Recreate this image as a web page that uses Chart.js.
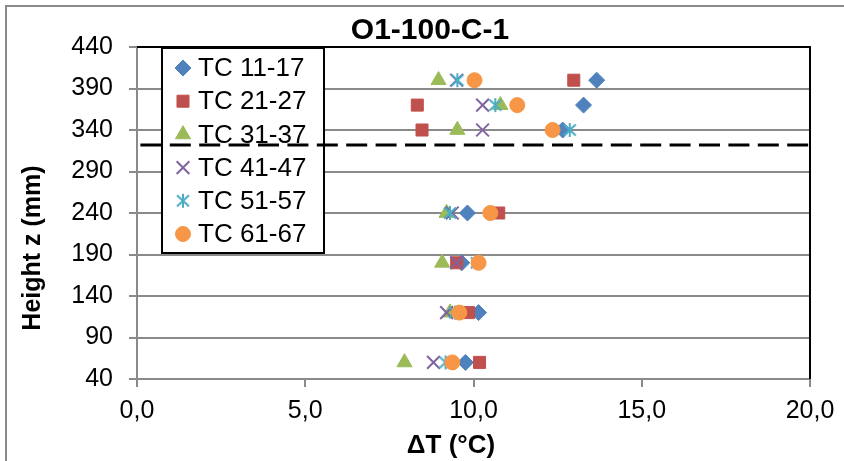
<!DOCTYPE html>
<html>
<head>
<meta charset="utf-8">
<script src="https://cdn.jsdelivr.net/npm/chart.js@4.4.0/dist/chart.umd.min.js"></script>
<style>
  html, body { margin: 0; padding: 0; background: #fff; }
</style>
</head>
<body>
<canvas id="chart" width="844" height="461"></canvas>
<script>
// heights of the thermocouples (mm)
var heights = [60, 120, 180, 240, 340, 370, 400];

var seriesNames = ['TC 11-17', 'TC 21-27', 'TC 31-37', 'TC 41-47', 'TC 51-57', 'TC 61-67'];

// temperature rise per series (°C), bottom to top
var tc11 = [9.76, 10.15, 9.65, 9.82, 12.65, 13.27, 13.66];
var tc21 = [10.18, 9.85, 9.5, 10.75, 8.47, 8.33, 12.98];
var tc31 = [7.95, 9.3, 9.07, 9.2, 9.52, 10.8, 8.96];
var tc41 = [8.81, 9.2, 9.5, 9.37, 10.27, 10.27, 9.5];
var tc51 = [9.17, 9.45, 10.1, 9.3, 12.86, 10.65, 9.52];
var tc61 = [9.37, 9.58, 10.15, 10.5, 12.35, 11.3, 10.03];

var cutHeight = 322;   // dashed line
var xTicks = [0, 5, 10, 15, 20];
var yTicks = [40, 90, 140, 190, 240, 290, 340, 390, 440];

var chartTitle = 'O1-100-C-1';
var xTitle = 'ΔT (°C)';
var yTitle = 'Height z (mm)';

var FONT = '"Liberation Sans", Arial, sans-serif';

// excel style asterisk marker
function asterisk(color) {
  var c = document.createElement('canvas');
  c.width = 16; c.height = 16;
  var g = c.getContext('2d');
  g.strokeStyle = color;
  g.lineWidth = 2;
  g.beginPath();
  g.moveTo(8, 1); g.lineTo(8, 15);
  g.moveTo(2, 2.5); g.lineTo(14, 13.5);
  g.moveTo(14, 2.5); g.lineTo(2, 13.5);
  g.stroke();
  return c;
}

function pts(vals) {
  return vals.map(function(v, i) { return {x: v, y: heights[i]}; });
}

var styles = [
  {data: tc11, color: '#4F81BD', style: 'rectRot', r: 8, bw: 1},
  {data: tc21, color: '#C0504D', style: 'rect', r: 8.5, bw: 1},
  {data: tc31, color: '#9BBB59', style: 'triangle', r: 8.7, bw: 1},
  {data: tc41, color: '#8064A2', style: 'crossRot', r: 9, bw: 2},
  {data: tc51, color: '#4BACC6', style: asterisk('#4BACC6'), r: 8, bw: 2},
  {data: tc61, color: '#F79646', style: 'circle', r: 7.5, bw: 1}
];

var datasets = styles.map(function(s, i) {
  return {
    label: seriesNames[i],
    data: pts(s.data),
    pointStyle: s.style,
    pointRadius: s.r,
    pointHoverRadius: s.r,
    backgroundColor: s.color,
    borderColor: s.color,
    borderWidth: s.bw,
    order: styles.length - i
  };
});

datasets.push({
  label: 'cut',
  type: 'line',
  data: [{x: xTicks[0], y: cutHeight}, {x: xTicks[xTicks.length - 1], y: cutHeight}],
  showLine: true,
  pointRadius: 0,
  borderColor: '#000',
  borderWidth: 3,
  borderDash: [21, 8.4],
  borderDashOffset: 26,
  order: 10
});

var frame = {
  id: 'frame',
  beforeDraw: function(chart) {
    var ctx = chart.ctx;
    ctx.save();
    ctx.fillStyle = '#fff';
    ctx.fillRect(0, 0, chart.width, chart.height);
    ctx.strokeStyle = '#8a8a8a';
    ctx.lineWidth = 2;
    ctx.strokeRect(6, 6, chart.width + 20, chart.height + 20);
    ctx.restore();
  },
  beforeDatasetsDraw: function(chart) {
    // legend box inside plot area
    var ctx = chart.ctx, a = chart.chartArea;
    var x0 = a.left + 25, y0 = a.top + 1, w = 162, h = 205;
    ctx.save();
    ctx.fillStyle = '#fff';
    ctx.fillRect(x0, y0, w, h);
    ctx.lineWidth = 2;
    ctx.strokeStyle = '#000';
    ctx.strokeRect(x0, y0, w, h);
    ctx.font = '26px ' + FONT;
    ctx.textBaseline = 'middle';
    ctx.textAlign = 'left';
    for (var i = 0; i < seriesNames.length; i++) {
      var ds = chart.data.datasets[i];
      var cy = y0 + 20 + i * 33.2;
      ctx.fillStyle = ds.backgroundColor;
      ctx.strokeStyle = ds.borderColor;
      ctx.lineWidth = ds.borderWidth;
      Chart.helpers.drawPoint(ctx, {pointStyle: ds.pointStyle, radius: ds.pointRadius, rotation: 0, borderWidth: ds.borderWidth}, x0 + 21, cy);
      ctx.fillStyle = '#000';
      ctx.fillText(ds.label, x0 + 36, cy + 1);
    }
    ctx.restore();
  },
  afterDraw: function(chart) {
    var ctx = chart.ctx, a = chart.chartArea;
    ctx.save();
    ctx.strokeStyle = '#000';
    ctx.lineWidth = 2;
    ctx.beginPath();
    ctx.moveTo(a.left, a.top);
    ctx.lineTo(a.right, a.top);
    ctx.lineTo(a.right, a.bottom);
    ctx.stroke();

    ctx.fillStyle = '#000';
    ctx.textAlign = 'center';
    ctx.textBaseline = 'middle';
    ctx.font = 'bold 30px ' + FONT;
    ctx.fillText(chartTitle, 430, 31);
    ctx.font = 'bold 26px ' + FONT;
    ctx.fillText(xTitle, 451, 446);
    ctx.translate(33, 248);
    ctx.rotate(-Math.PI / 2);
    ctx.font = 'bold 25px ' + FONT;
    ctx.fillText(yTitle, 0, 0);
    ctx.restore();
  }
};

new Chart(document.getElementById('chart'), {
  type: 'scatter',
  data: {datasets: datasets},
  options: {
    responsive: false,
    animation: false,
    layout: {padding: {left: 0, right: 34, top: 47, bottom: 0}},
    plugins: {
      legend: {display: false},
      title: {display: false},
      tooltip: {enabled: false}
    },
    scales: {
      x: {
        type: 'linear',
        min: xTicks[0],
        max: xTicks[xTicks.length - 1],
        afterFit: function(s) { s.height = 82; },
        afterBuildTicks: function(s) { s.ticks = xTicks.map(function(v) { return {value: v}; }); },
        ticks: {
          color: '#000',
          padding: 9,
          font: {family: FONT, size: 25},
          callback: function(v) { return v.toFixed(1).replace('.', ','); }
        },
        grid: {drawOnChartArea: false, color: '#8a8a8a', lineWidth: 2, tickLength: 8},
        border: {color: '#8a8a8a', width: 2}
      },
      y: {
        type: 'linear',
        min: yTicks[0],
        max: yTicks[yTicks.length - 1],
        afterFit: function(s) { s.width = 137; },
        afterBuildTicks: function(s) { s.ticks = yTicks.map(function(v) { return {value: v}; }); },
        ticks: {
          color: '#000',
          padding: 16,
          font: {family: FONT, size: 25}
        },
        grid: {color: '#8a8a8a', lineWidth: 2, tickLength: 8},
        border: {color: '#8a8a8a', width: 2}
      }
    }
  },
  plugins: [frame]
});
</script>
</body>
</html>
